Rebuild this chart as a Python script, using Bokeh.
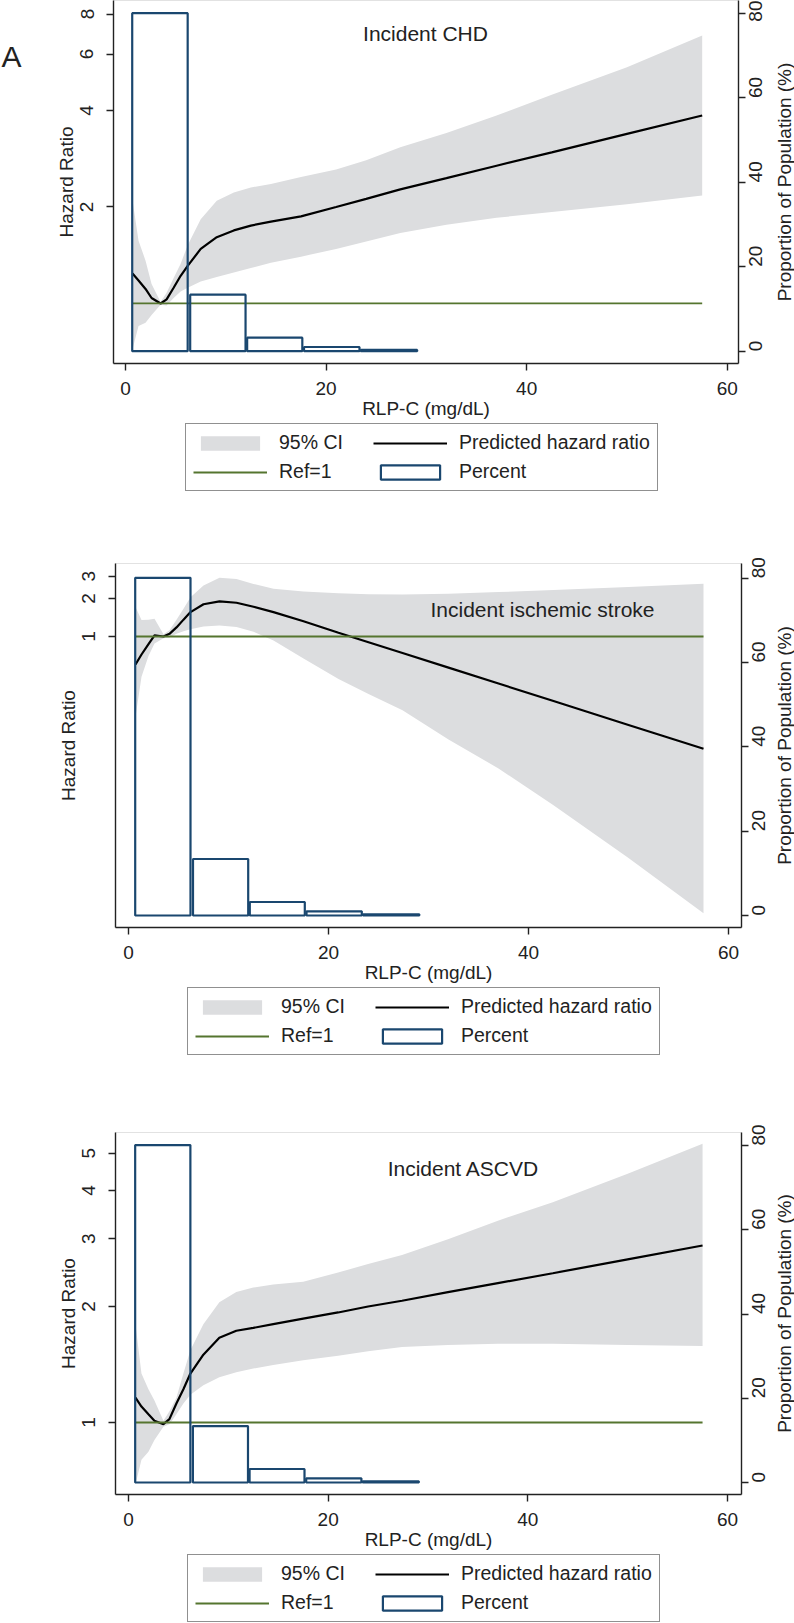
import math
from bokeh.plotting import figure
from bokeh.models import (Range1d, LinearAxis, LinearScale, FixedTicker, BasicTickFormatter,
                          Legend, LegendItem, Label, ColumnDataSource)
from bokeh.layouts import column, row
from bokeh.embed import file_html
from bokeh.resources import INLINE

# ---------------- data ----------------
rlp_x = [0.7, 1.3, 2.0, 2.6, 3.5, 4.1, 4.8, 5.5, 6.2, 7.5, 9.1, 10.8, 12.5, 14.5,
         17.5, 21, 24, 27.4, 32, 37, 42.5, 50, 57.5]

chd_hr = [1.24, 1.18, 1.11, 1.04, 1.00, 1.03, 1.12, 1.22, 1.31, 1.48, 1.61, 1.69,
          1.75, 1.80, 1.87, 2.00, 2.12, 2.27, 2.46, 2.69, 2.96, 3.38, 3.86]
chd_lo = [0.72, 0.85, 0.87, 0.92, 0.99, 0.985, 1.04, 1.09, 1.12, 1.17, 1.21, 1.25,
          1.29, 1.34, 1.40, 1.48, 1.56, 1.66, 1.76, 1.85, 1.93, 2.04, 2.17]
chd_hi = [2.10, 1.57, 1.36, 1.15, 1.01, 1.08, 1.20, 1.33, 1.52, 1.83, 2.09, 2.22,
          2.30, 2.36, 2.48, 2.62, 2.80, 3.07, 3.40, 3.86, 4.48, 5.46, 6.86]

stroke_hr = [0.60, 0.72, 0.87, 1.02, 1.00, 1.05, 1.18, 1.36, 1.56, 1.80, 1.90, 1.85,
             1.72, 1.56, 1.32, 1.07, 0.90, 0.74, 0.567, 0.424, 0.308, 0.199, 0.129]
stroke_lo = [0.23, 0.48, 0.70, 0.88, 0.97, 0.98, 1.05, 1.10, 1.14, 1.20, 1.22, 1.19,
             1.09, 0.93, 0.67, 0.46, 0.35, 0.26, 0.153, 0.09, 0.046, 0.0176, 0.0064]
stroke_hi = [1.71, 1.35, 1.36, 1.38, 1.04, 1.12, 1.36, 1.66, 2.05, 2.53, 2.92, 2.86,
             2.61, 2.39, 2.27, 2.20, 2.16, 2.15, 2.18, 2.25, 2.33, 2.47, 2.62]

ascvd_hr = [1.16, 1.10, 1.05, 1.01, 0.99, 1.02, 1.12, 1.22, 1.34, 1.50, 1.66, 1.73,
            1.76, 1.80, 1.86, 1.93, 2.00, 2.07, 2.18, 2.30, 2.44, 2.65, 2.88]
ascvd_lo = [0.69, 0.80, 0.84, 0.90, 0.975, 0.99, 1.05, 1.12, 1.18, 1.25, 1.31, 1.35,
            1.38, 1.41, 1.45, 1.49, 1.53, 1.57, 1.59, 1.60, 1.60, 1.59, 1.58]
ascvd_hi = [1.80, 1.34, 1.22, 1.14, 1.01, 1.07, 1.16, 1.34, 1.54, 1.80, 2.05, 2.18,
            2.24, 2.28, 2.32, 2.45, 2.58, 2.72, 2.99, 3.34, 3.73, 4.42, 5.29]

bin_left = [0.67, 6.45, 12.13, 17.8, 23.45]
bin_right = [6.2, 11.97, 17.63, 23.33, 29.08]
pct_population = [80.1, 13.4, 3.2, 1.0, 0.3]

REF_HR = 1.0
x_ticks = [0, 20, 40, 60]
pct_ticks = [0, 20, 40, 60, 80]
chd_ticks = [2, 4, 6, 8]
stroke_ticks = [1, 2, 3]
ascvd_ticks = [1, 2, 3, 4, 5]

titles = ["Incident CHD", "Incident ischemic stroke", "Incident ASCVD"]
legend_labels = ["95% CI", "Predicted hazard ratio", "Ref=1", "Percent"]
right_title = "Proportion of Population (%)"
panel_letter = "A"

# ---------------- style ----------------
FONT = "Liberation Sans"
INK = "#222222"
CI_COLOR = "#dcdddf"
NAVY = "#1a476f"
GREEN = "#55752f"
PAGE_W = 794
RT_W = 20
LETTER_W = 40
BOTTOM_B = 59


def blank_fig(width, height, xr=(0, 1), yr=(0, 1)):
    s = figure(width=width, height=height, x_range=Range1d(*xr), y_range=Range1d(*yr),
               output_backend="svg", toolbar_location=None,
               x_axis_location=None, y_axis_location=None,
               min_border=0, outline_line_color=None,
               background_fill_color="white", border_fill_color="white")
    s.xgrid.visible = False
    s.ygrid.visible = False
    return s


def style_axis(ax, label_standoff, title_standoff):
    ax.axis_line_color = INK
    ax.axis_line_width = 1.4
    ax.major_tick_line_color = INK
    ax.major_tick_line_width = 1.4
    ax.major_tick_out = 7
    ax.major_tick_in = 0
    ax.minor_tick_line_color = None
    ax.major_label_text_font = FONT
    ax.major_label_text_font_size = "19px"
    ax.major_label_text_color = INK
    ax.major_label_standoff = label_standoff
    ax.axis_label_text_font = FONT
    ax.axis_label_text_font_size = "19px"
    ax.axis_label_text_font_style = "normal"
    ax.axis_label_text_color = INK
    ax.axis_label_standoff = title_standoff


def text_strip(width, height, text, x, y_in_frame, size, angle=0.0, align="center"):
    # frames of plots in a row are aligned, so y is given in the panel's frame coordinates
    s = blank_fig(width, height)
    s.add_layout(Label(x=x, y=y_in_frame, x_units="screen", y_units="screen",
                       text=text, angle=angle, text_align=align, text_baseline="middle",
                       text_font=FONT, text_font_size=size, text_color=INK))
    return s


def legend_fig(height, left, bottom, sources):
    src, ref, hist = sources
    # same data as the panel, but the view window is empty: only the legend is visible
    lf = blank_fig(PAGE_W, height, xr=(1000, 1001), yr=(1000, 1001))
    r_ci = lf.varea(x="x", y1="lo", y2="hi", source=src, fill_color=CI_COLOR)
    r_hr = lf.line(x="x", y="hr", source=src, line_color="black", line_width=2.2)
    r_ref = lf.line(x="x", y="y", source=ref, line_color=GREEN, line_width=1.8)
    r_bar = lf.quad(left="left", right="right", top="top", bottom="bottom", source=hist,
                    fill_color=None, line_color=NAVY, line_width=2.2)
    items = [LegendItem(label=legend_labels[0], renderers=[r_ci]),
             LegendItem(label=legend_labels[1], renderers=[r_hr]),
             LegendItem(label=legend_labels[2], renderers=[r_ref]),
             LegendItem(label=legend_labels[3], renderers=[r_bar])]
    legend = Legend(items=items, location=(left, bottom),
                    orientation="horizontal", ncols=2,
                    border_line_color=INK, border_line_width=1.5,
                    background_fill_color="white", background_fill_alpha=1.0,
                    label_text_font=FONT, label_text_font_size="19.5px",
                    label_text_color=INK,
                    glyph_width=74, glyph_height=18, label_standoff=12,
                    label_width=88, spacing=6, padding=7, margin=0)
    lf.add_layout(legend)
    return lf


def make_panel(title, hr, lo, hi, yticks, geom):
    (width, height, left_b, right_b, top_b, xr, yr, pr, title_cx, title_dy) = geom
    frame_h = height - top_b - BOTTOM_B
    p = figure(width=width, height=height,
               x_range=Range1d(*xr), y_range=Range1d(*yr), y_axis_type="log",
               output_backend="svg", toolbar_location=None,
               min_border_left=left_b, min_border_right=right_b,
               min_border_top=top_b, min_border_bottom=BOTTOM_B,
               background_fill_color="white", border_fill_color="white",
               outline_line_color="#e2e2e2", outline_line_width=1)
    p.xgrid.visible = False
    p.ygrid.visible = False
    p.extra_y_ranges = {"pct": Range1d(*pr)}
    p.extra_y_scales = {"pct": LinearScale()}

    src = ColumnDataSource(dict(x=rlp_x, hr=hr, lo=lo, hi=hi))
    hist = ColumnDataSource(dict(left=bin_left, right=bin_right, top=pct_population,
                                 bottom=[0] * len(pct_population)))
    ref = ColumnDataSource(dict(x=[rlp_x[0], rlp_x[-1]], y=[REF_HR, REF_HR]))

    p.varea(x="x", y1="lo", y2="hi", source=src, fill_color=CI_COLOR)
    p.line(x="x", y="hr", source=src, line_color="black", line_width=2.2)
    p.line(x="x", y="y", source=ref, line_color=GREEN, line_width=1.8)
    p.quad(left="left", right="right", top="top", bottom="bottom", source=hist,
           y_range_name="pct", fill_color=None, line_color=NAVY, line_width=2.2)

    yax = p.yaxis[0]
    yax.ticker = FixedTicker(ticks=yticks)
    yax.formatter = BasicTickFormatter()
    yax.major_label_orientation = "vertical"
    yax.axis_label = "Hazard Ratio"
    style_axis(yax, 13, 1)

    xax = p.xaxis[0]
    xax.ticker = FixedTicker(ticks=x_ticks)
    xax.axis_label = "RLP-C (mg/dL)"
    style_axis(xax, 11, 0)

    rax = LinearAxis(y_range_name="pct", ticker=FixedTicker(ticks=pct_ticks))
    rax.major_label_orientation = math.pi / 2
    style_axis(rax, 10, 0)
    p.add_layout(rax, "right")

    p.add_layout(Label(x=title_cx, y=frame_h - title_dy, x_units="screen", y_units="screen",
                       text=title, text_align="center", text_baseline="middle",
                       text_font=FONT, text_font_size="21px", text_color=INK))
    return p, (src, ref, hist), frame_h


# vertical plan (page px): panel rows and legend strips
H1, H2, H3 = 422, 466, 473
L1, L2, L3 = 98, 94, 70
T1, T2, T3 = 0, 43, 52
W1 = PAGE_W - LETTER_W - RT_W
W2 = W3 = PAGE_W - RT_W

p1, s1, fh1 = make_panel(titles[0], chd_hr, chd_lo, chd_hi, chd_ticks,
                         (W1, H1, 73, W1 - 73 - 625, T1, (-1.196, 61.12), (0.6497, 8.815),
                          (-2.915, 83.10), 312, 33))
p2, s2, fh2 = make_panel(titles[1], stroke_hr, stroke_lo, stroke_hi, stroke_ticks,
                         (W2, H2, 115, W2 - 115 - 626, T2, (-1.3, 61.3), (0.004946, 3.787),
                          (-2.846, 83.49), 427, 46))
p3, s3, fh3 = make_panel(titles[2], ascvd_hr, ascvd_lo, ascvd_hi, ascvd_ticks,
                         (W3, H3, 115, W3 - 115 - 627, T3, (-1.3, 61.4), (0.6503, 5.657),
                          (-2.849, 83.09), 348, 36))

letter = text_strip(LETTER_W, H1, panel_letter, 1, fh1 - 56, "30px", align="left")
rt1 = text_strip(RT_W, H1, right_title, RT_W / 2, fh1 / 2, "19px", angle=math.pi / 2)
rt2 = text_strip(RT_W, H2, right_title, RT_W / 2, fh2 / 2, "19px", angle=math.pi / 2)
rt3 = text_strip(RT_W, H3, right_title, RT_W / 2, fh3 / 2, "19px", angle=math.pi / 2)

leg1 = legend_fig(L1, 185, L1 - (491 - H1), s1)
leg2 = legend_fig(L2, 187, L2 - (1055 - (H1 + L1 + H2)), s2)
leg3 = legend_fig(L3, 187, 1, s3)

layout = column(row(letter, p1, rt1, spacing=0), leg1,
                row(p2, rt2, spacing=0), leg2,
                row(p3, rt3, spacing=0), leg3, spacing=0)
open("out.html", "w").write(file_html(layout, INLINE))
